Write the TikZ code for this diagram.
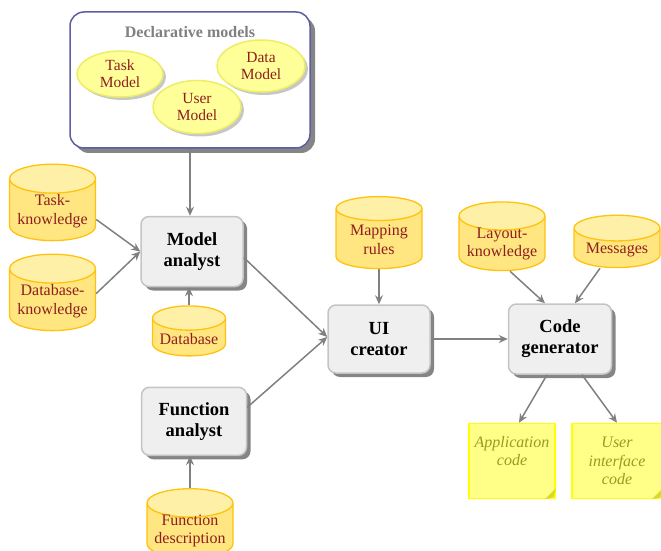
\documentclass[tikz,border=0pt]{standalone}
\usepackage{fontspec}
\setmainfont{Liberation Serif}
\usetikzlibrary{shapes.geometric, arrows.meta, positioning, shadows}

\definecolor{boxfill}{HTML}{EFEFEF}
\definecolor{boxdraw}{HTML}{C4C4C4}
\definecolor{shadowgray}{HTML}{858585}
\definecolor{declborder}{HTML}{5E5E9E}
\definecolor{ellfill}{HTML}{FFFF99}
\definecolor{elldraw}{HTML}{EEEE66}
\definecolor{cylbody}{HTML}{FFE680}
\definecolor{cylend}{HTML}{FFF0A8}
\definecolor{cyldraw}{HTML}{FFC20E}
\definecolor{cyltext}{HTML}{8E1E1E}
\definecolor{notefill}{HTML}{FFFF88}
\definecolor{notedraw}{HTML}{FFFF00}
\definecolor{notetext}{HTML}{9A9A20}
\definecolor{linkgray}{HTML}{808080}

\begin{document}
\begin{tikzpicture}[
    proc/.style={draw=boxdraw, line width=1.5pt, rounded corners=8pt, fill=boxfill,
        minimum width=102pt, minimum height=70pt, align=center,
        font=\fontsize{18.5}{21}\selectfont\bfseries,
        drop shadow={shadow xshift=4pt, shadow yshift=-4pt, fill=shadowgray, opacity=1}},
    store/.style={cylinder, shape border rotate=90, shape aspect=0.4, draw=cyldraw,
        line width=1.3pt, cylinder uses custom fill, cylinder body fill=cylbody,
        cylinder end fill=cylend, minimum width=86pt, minimum height=70pt,
        inner sep=1pt, align=center, font=\fontsize{16}{19}\selectfont, text=cyltext},
    model/.style={ellipse, fill=ellfill, draw=elldraw, line width=1.5pt,
        minimum width=88pt, minimum height=50pt, inner sep=0pt, align=center,
        font=\fontsize{15.5}{17}\selectfont, text=cyltext,
        drop shadow={shadow xshift=3pt, shadow yshift=-3pt, fill=black!22, opacity=1}},
    note/.style={rectangle, fill=notefill, draw=notedraw, line width=1.5pt,
        minimum width=88pt, minimum height=75pt, align=center,
        font=\fontsize{16}{18.5}\selectfont\itshape, text=notetext},
    link/.style={draw=linkgray, line width=1.5pt,
        -{Stealth[length=9pt, width=8pt, inset=3pt]}}
]
    \useasboundingbox (0,0) rectangle (661pt,550pt);

    % declarative models
    \node[draw=declborder, line width=1.5pt, fill=white, rounded corners=14pt,
        minimum width=240pt, minimum height=136pt,
        drop shadow={shadow xshift=5pt, shadow yshift=-5pt, fill=shadowgray, opacity=1}]
        (decl) at (190pt,470pt) {};
    \node[font=\fontsize{16}{18}\selectfont\bfseries, text=gray] (decltitle)
        at ([yshift=-21pt]decl.north) {Declarative models};
    \node[model, minimum width=86pt, minimum height=46pt] (taskm) at ([xshift=-70pt,yshift=6pt]decl.center) {Task\\Model};
    \node[model, minimum height=52pt] (datam) at ([xshift=71pt,yshift=14pt]decl.center) {Data\\Model};
    \node[model, minimum height=53pt] (userm) at ([xshift=7pt,yshift=-27pt]decl.center) {User\\Model};

    % analysts
    \node[proc, xshift=2pt] (ma) [below=67pt of decl] {Model\\analyst};
    \node[store, minimum width=73pt, minimum height=50pt, below=18pt of ma, xshift=-3pt] (db) {Database};
    \node[proc, minimum width=105pt, minimum height=68pt, below=30pt of db, xshift=5pt] (fa) {Function\\analyst};
    \node[store, minimum height=62pt, inner xsep=0pt, inner ysep=-3pt, font=\fontsize{16}{18}\selectfont,
        below=32pt of fa, xshift=-4pt] (fd) {Function\\description};

    \node[store, minimum height=72pt, left=44pt of ma, yshift=40pt] (tk) {Task-\\knowledge};
    \node[store, minimum height=68pt, left=44pt of ma, yshift=-50pt] (dk) {Database-\\knowledge};

    % ui creator and code generator
    \node[proc, minimum height=68pt] (ui) at (379pt,211pt) {UI\\creator};
    \node[store, minimum height=72pt, above=35pt of ui] (mr) {Mapping\\rules};
    \node[proc, minimum width=103pt, right=77pt of ui] (cg) {Code\\generator};
    \node[store, minimum height=64pt, inner xsep=0pt, inner ysep=-3pt, font=\fontsize{16}{18}\selectfont,
        above=32pt of cg, xshift=-58pt] (lk) {Layout-\\knowledge};
    \node[store, minimum height=50pt, above=35pt of cg, xshift=57pt] (msg) {Messages};

    % generated code
    \node[note, minimum width=86pt, text depth=20pt, below=48pt of cg, xshift=-48pt] (ac) {Application\\code};
    \node[note, minimum width=90pt, below=48pt of cg, xshift=57pt] (uic) {User\\interface\\code};
    \foreach \n in {ac,uic}
        \fill[notedraw!70!gray] ([xshift=-11pt]\n.south east) -- ([xshift=-2pt,yshift=2pt]\n.south east)
            -- ([yshift=11pt]\n.south east) -- cycle;

    % connectors
    \draw[link] (decl.south) -- (decl.south |- ma.north);
    \draw[link] ([yshift=-8pt]tk.east) -- (ma.west);
    \draw[link] ([yshift=8pt]dk.east) -- (ma.west);
    \draw[link] (db.north) -- (db.north |- ma.south);
    \draw[link] (fd.north) -- (fd.north |- fa.south);
    \draw[link] ([yshift=-6pt]ma.east) -- ([yshift=2pt]ui.west);
    \draw[link] ([yshift=14pt]fa.east) -- ([yshift=2pt]ui.west);
    \draw[link] (mr.south) -- (mr.south |- ui.north);
    \draw[link] (ui.east) -- (cg.west);
    \draw[link] ([xshift=8pt]lk.south) -- ([xshift=-15pt]cg.north);
    \draw[link] ([xshift=-17pt]msg.south) -- ([xshift=15pt]cg.north);
    \draw[link] ([xshift=-13pt]cg.south) -- ([xshift=7pt]ac.north);
    \draw[link] ([xshift=22pt]cg.south) -- (uic.north);
\end{tikzpicture}
\end{document}
